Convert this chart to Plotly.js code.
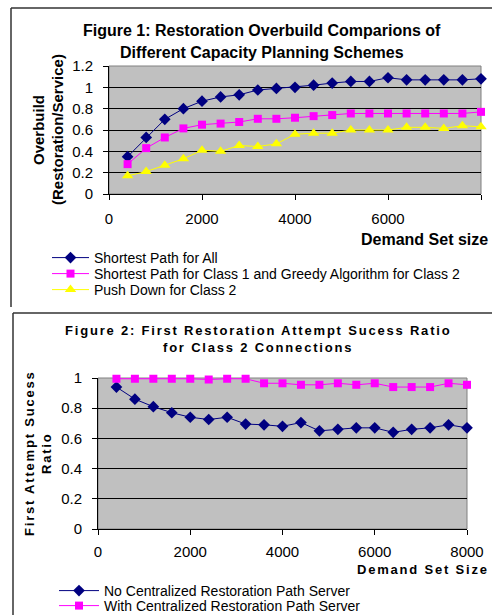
<!DOCTYPE html>
<html>
<head>
<meta charset="utf-8">
<script src="https://cdn.plot.ly/plotly-3.0.1.min.js"></script>
<style>
  html, body { margin: 0; padding: 0; background: #ffffff; }
  #chart { width: 492px; height: 615px; }
</style>
</head>
<body>
<div id="chart"></div>
<script>
// ---------- data ----------
var demandSizes = [400, 800, 1200, 1600, 2000, 2400, 2800, 3200, 3600, 4000,
                   4400, 4800, 5200, 5600, 6000, 6400, 6800, 7200, 7600, 8000];

// Figure 1: Restoration overbuild (Restoration/Service)
var fig1ShortestAll = [0.35, 0.53, 0.70, 0.80, 0.87, 0.91, 0.93, 0.975, 0.99, 1.00,
                       1.02, 1.04, 1.055, 1.055, 1.09, 1.07, 1.07, 1.07, 1.07, 1.08];
var fig1Greedy      = [0.28, 0.43, 0.53, 0.615, 0.65, 0.66, 0.675, 0.705, 0.705, 0.715,
                       0.73, 0.74, 0.755, 0.755, 0.755, 0.755, 0.755, 0.755, 0.755, 0.77];
var fig1PushDown    = [0.17, 0.21, 0.27, 0.33, 0.41, 0.40, 0.455, 0.445, 0.47, 0.56,
                       0.57, 0.57, 0.60, 0.60, 0.60, 0.625, 0.625, 0.615, 0.64, 0.63];

// Figure 2: First restoration attempt success ratio
var fig2NoServer    = [0.94, 0.86, 0.81, 0.77, 0.74, 0.725, 0.74, 0.695, 0.69, 0.68,
                       0.705, 0.65, 0.66, 0.67, 0.67, 0.64, 0.66, 0.67, 0.69, 0.67];
var fig2WithServer  = [0.995, 0.995, 0.995, 0.995, 0.995, 0.99, 0.995, 0.995, 0.965, 0.965,
                       0.955, 0.955, 0.965, 0.955, 0.965, 0.94, 0.94, 0.94, 0.965, 0.955];

var fig1Names = ["Shortest Path for All",
                 "Shortest Path for Class 1 and Greedy Algorithm for Class 2",
                 "Push Down for Class 2"];
var fig2Names = ["No Centralized Restoration Path Server",
                 "With Centralized Restoration Path Server"];
var xTickVals = [0, 2000, 4000, 6000, 8000];

// ---------- styling ----------
var W = 492, H = 615;
function px(x) { return x / W; }
function py(y) { return 1 - y / H; }
var FONT = "Liberation Sans, Arial, sans-serif";
var NAVY = "#000080", MAGENTA = "#FF00FF", YELLOW = "#FFFF00";
var SP = '<span style="letter-spacing:1.8px">';

function series(x, y, name, color, symbol, size, xa, ya, legend) {
  return {
    type: "scatter", mode: "lines+markers", x: x, y: y, name: name,
    xaxis: xa, yaxis: ya, legend: legend, cliponaxis: false,
    line: { color: color, width: 1 },
    marker: { color: color, symbol: symbol, size: size, line: { width: 0 } }
  };
}

var data = [
  series(demandSizes, fig1ShortestAll, fig1Names[0], NAVY, "diamond", 9, "x", "y", "legend"),
  series(demandSizes, fig1Greedy, fig1Names[1], MAGENTA, "square", 8, "x", "y", "legend"),
  series(demandSizes, fig1PushDown, fig1Names[2], YELLOW, "triangle-up", 10, "x", "y", "legend"),
  series(demandSizes, fig2NoServer, fig2Names[0], NAVY, "diamond", 9, "x2", "y2", "legend2"),
  series(demandSizes, fig2WithServer, fig2Names[1], MAGENTA, "square", 8, "x2", "y2", "legend2")
];

function xAxis(domain, anchor, standoff) {
  return {
    domain: domain, anchor: anchor, range: [0, 8000], tickvals: xTickVals,
    ticks: "outside", ticklen: 5, tickcolor: "#000", tickwidth: 1,
    showline: true, linecolor: "#000", linewidth: 1,
    showgrid: false, zeroline: false, fixedrange: true,
    tickfont: { family: FONT, size: 15, color: "#000" },
    ticklabelstandoff: standoff
  };
}
function yAxis(domain, anchor, top) {
  return {
    domain: domain, anchor: anchor, range: [0, top], dtick: 0.2, tick0: 0,
    ticks: "outside", ticklen: 5, tickcolor: "#000", tickwidth: 1,
    showline: true, linecolor: "#000", linewidth: 1,
    showgrid: true, gridcolor: "#000", gridwidth: 1,
    zeroline: false, fixedrange: true,
    tickfont: { family: FONT, size: 15, color: "#000" },
    ticklabelstandoff: 7
  };
}

function ann(x, y, text, size, opts) {
  var a = {
    xref: "paper", yref: "paper", x: px(x), y: py(y), text: text,
    showarrow: false, xanchor: "center", yanchor: "middle",
    font: { family: FONT, size: size, color: "#000" }
  };
  for (var k in (opts || {})) a[k] = opts[k];
  return a;
}

var layout = {
  width: W, height: H,
  margin: { l: 0, r: 0, t: 0, b: 0, pad: 0, autoexpand: false },
  paper_bgcolor: "#ffffff",
  plot_bgcolor: "#C0C0C0",
  font: { family: FONT, color: "#000" },
  xaxis: xAxis([px(109), px(481)], "y", 6),
  yaxis: yAxis([py(194), py(66)], "x", 1.2),
  xaxis2: xAxis([px(98), px(467)], "y2", 4),
  yaxis2: yAxis([py(529), py(378)], "x2", 1.0),
  legend: {
    x: px(47), xanchor: "left", y: py(242), yanchor: "top",
    bgcolor: "rgba(0,0,0,0)", borderwidth: 0, itemwidth: 37,
    font: { family: FONT, size: 14, color: "#000" }, traceorder: "normal"
  },
  legend2: {
    x: px(54), xanchor: "left", y: py(575), yanchor: "top",
    bgcolor: "rgba(0,0,0,0)", borderwidth: 0, itemwidth: 40,
    font: { family: FONT, size: 14, color: "#000" }, traceorder: "normal"
  },
  annotations: [
    ann(262, 30, "<b>Figure 1: Restoration Overbuild Comparions of</b>", 16),
    ann(262, 52, "<b>Different Capacity Planning Schemes</b>", 16),
    ann(38, 130, "<b>Overbuild</b>", 15, { textangle: -90 }),
    ann(57, 130, "<b>(Restoration/Service)</b>", 15, { textangle: -90 }),
    ann(359, 239, "<b>Demand Set size</b>", 16, { xanchor: "left" }),
    ann(258, 330, "<b>" + SP + "Figure 2: First Restoration Attempt Sucess Ratio</span></b>", 13),
    ann(258, 348, "<b>" + SP + "for Class 2 Connections</span></b>", 13),
    ann(29, 453, "<b>" + SP + "First Attempt Sucess</span></b>", 13, { textangle: -90 }),
    ann(46, 453, "<b>" + SP + "Ratio</span></b>", 13, { textangle: -90 }),
    ann(355, 569, "<b>" + SP + "Demand Set Size</span></b>", 13, { xanchor: "left" })
  ],
  shapes: [
    { type: "rect", xref: "x domain", yref: "y domain", x0: 0, x1: 1, y0: 0, y1: 1,
      line: { color: "#808080", width: 1 }, layer: "below" },
    { type: "rect", xref: "x2 domain", yref: "y2 domain", x0: 0, x1: 1, y0: 0, y1: 1,
      line: { color: "#808080", width: 1 }, layer: "below" },
    { type: "line", xref: "paper", yref: "paper", x0: px(11), x1: 1.01, y0: py(8), y1: py(8),
      line: { color: "#333", width: 1.5 } },
    { type: "line", xref: "paper", yref: "paper", x0: px(11), x1: px(11), y0: py(8), y1: py(307),
      line: { color: "#333", width: 1.5 } },
    { type: "line", xref: "paper", yref: "paper", x0: px(13), x1: 1.01, y0: py(313), y1: py(313),
      line: { color: "#333", width: 1.5 } },
    { type: "line", xref: "paper", yref: "paper", x0: px(13), x1: px(13), y0: py(313), y1: -0.01,
      line: { color: "#333", width: 1.5 } }
  ]
};

var gd = document.getElementById("chart");
Plotly.newPlot(gd, data, layout, { staticPlot: true, displayModeBar: false }).then(function () {
  // tighten legend row spacing to match the compact original legend
  [["legend", 16], ["legend2", 15]].forEach(function (pair) {
    var groups = gd.querySelectorAll("g." + pair[0] + " g.traces");
    if (!groups.length) return;
    var m = /translate\(\s*([-\d.]+)[ ,]+([-\d.]+)\s*\)/.exec(groups[0].getAttribute("transform") || "");
    if (!m) return;
    var x0 = parseFloat(m[1]), y0 = parseFloat(m[2]);
    for (var i = 0; i < groups.length; i++) {
      groups[i].setAttribute("transform", "translate(" + x0 + "," + (y0 + i * pair[1]) + ")");
    }
  });
});
</script>
</body>
</html>
